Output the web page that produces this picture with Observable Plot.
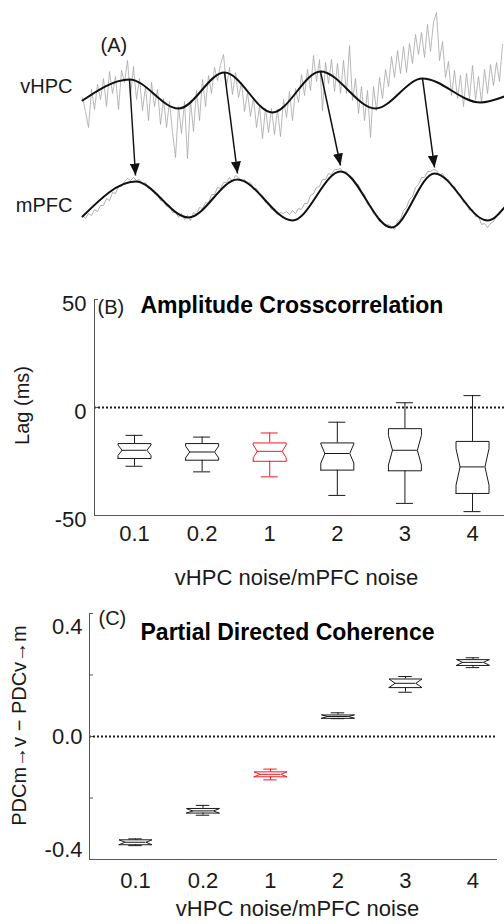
<!DOCTYPE html>
<html>
<head>
<meta charset="utf-8">
<script src="https://cdn.jsdelivr.net/npm/d3@7"></script>
<script src="https://cdn.jsdelivr.net/npm/@observablehq/plot@0.6"></script>
<style>
  body { margin: 0; background: #fff; }
  #fig { position: relative; width: 504px; height: 924px; overflow: hidden; background: #fff; }
  #fig svg { position: absolute; left: 0; }
</style>
</head>
<body>
<div id="fig"></div>
<script>
// ---------- Panel A: example LFP traces (arbitrary units, one sample every 3 ms) ----------
const sampleStep = 3;
const vhpcRaw = [
  -5, -19, -35, 3, -17, 8, -7, 14, -14, 21,
  -1, 16, -17, 22, 10, 32, -4, 26, -7, 14,
  -18, 6, -28, 10, -14, 3, -32, -6, -35, -9,
  -40, -65, -14, -41, -9, -66, -8, -39, 2, -28,
  13, -14, 17, -1, 25, 12, 28, 38, 6, 25,
  -2, 20, -5, 10, -19, 0, -24, -5, -35, -14,
  -46, -16, -40, -16, -42, -17, -44, -7, -25, 1,
  -28, 4, -10, 18, -3, 23, 2, 37, 11, 33,
  -18, 30, 9, 33, 1, 29, -1, 32, -1, 47,
  -8, 14, -21, 6, -28, 2, -45, 6, -18, 15,
  -6, 23, 6, 36, 15, 42, 19, 46, 20, 49,
  29, 58, 38, 60, 35, 68, 41, 70, 80, 32,
  51, 15, 31, -3, 22, -6, 17, -14, 19, -6,
  27, -7, 16, -10, 23, -1, 28, 7, 30, 11,
  48
];
const mpfcRaw = [
  -16, -19, -14, -16, -10, -12, -6, -6, 1, -1,
  7, 6, 13, 13, 18, 21, 19, 22, 19, 20,
  15, 17, 11, 11, 6, 6, -1, -1, -7, -6,
  -13, -12, -18, -14, -20, -16, -21, -13, -15, -8,
  -9, -3, -4, 5, 5, 12, 11, 17, 17, 22,
  18, 24, 22, 18, 20, 16, 17, 10, 11, 5,
  4, -3, -3, -10, -9, -15, -13, -14, -12, -15,
  -11, -14, -9, -10, -4, -4, 4, 6, 12, 13,
  20, 20, 26, 25, 30, 30, 31, 27, 28, 22,
  22, 15, 15, 7, 5, -5, -6, -14, -15, -22,
  -22, -27, -25, -27, -30, -22, -20, -11, -8, 0,
  3, 12, 15, 22, 22, 28, 28, 30, 29, 24,
  26, 20, 20, 13, 13, 6, 5, -3, -3, -11,
  -10, -17, -17, -25, -24, -28, -24, -22, -17, -15,
  -9
];
// theta-band envelope: times (ms) and values of successive extrema
const vhpcThetaT = [0, 47, 96, 142, 190, 238, 293, 340, 398, 422];
const vhpcThetaV = [-8, 13, -16, 20, -20, 21, -16, 14, -10, -4];
const mpfcThetaT = [0, 53, 106, 155, 210, 258, 309, 352, 405, 422];
const mpfcThetaV = [-17, 18, -18, 20, -21, 28, -28, 26, -21, -8];
// vHPC peak -> following mPFC peak (indices into the extrema arrays)
const leadPeaks = [1, 3, 5, 7];

// ---------- Panel B: amplitude cross-correlation lag (ms) ----------
const ratios = ["0.1", "0.2", "1", "2", "3", "4"];
const highlightRatio = "1";
const lagLo  = [-27.2, -29.8, -32.1, -40.7, -44.4, -48.2];
const lagQ1  = [-23.6, -24.4, -24.9, -29.0, -29.3, -39.8];
const lagMed = [-19.8, -20.6, -20.3, -21.3, -19.8, -27.5];
const lagQ3  = [-16.7, -16.7, -16.4, -16.4, -9.8, -15.7];
const lagHi  = [-12.9, -13.7, -11.8, -6.8, 2.2, 5.5];
const lagTicks = [-50, 0, 50];
const lagTickLabels = ["-50", "0", "50"];

// ---------- Panel C: partial directed coherence difference ----------
const pdcLo  = [-0.355, -0.256, -0.141, 0.058, 0.144, 0.224];
const pdcQ1  = [-0.352, -0.249, -0.131, 0.059, 0.159, 0.231];
const pdcMed = [-0.344, -0.242, -0.123, 0.065, 0.173, 0.241];
const pdcQ3  = [-0.336, -0.234, -0.115, 0.070, 0.187, 0.250];
const pdcHi  = [-0.333, -0.224, -0.106, 0.077, 0.195, 0.256];
const pdcTicks = [-0.4, 0, 0.4];
const pdcTickLabels = ["-0.4", "0.0", "0.4"];
const pdcMinorTicks = [-0.4, -0.2, 0, 0.2, 0.4];

// ---------- shared styling ----------
const FONT = "'Liberation Sans', Arial, Helvetica, sans-serif";
const INK = "#1a1a1a";
const AXIS = "#555";
const RED = "#ee1c24";
const plotStyle = {fontFamily: FONT, background: "transparent", overflow: "visible", color: INK};

const fig = document.getElementById("fig");
function place(svg, top) { svg.style.top = top + "px"; fig.appendChild(svg); return svg; }

// ===================== Panel A =====================
const vOffset = 33, mOffset = -74, arrowGap = 6;
const rawV = vhpcRaw.map((v, i) => ({t: i * sampleStep, v: v + vOffset}));
const rawM = mpfcRaw.map((v, i) => ({t: i * sampleStep, v: v + mOffset}));
const thetaV = vhpcThetaT.map((t, i) => ({t, v: vhpcThetaV[i] + vOffset}));
const thetaM = mpfcThetaT.map((t, i) => ({t, v: mpfcThetaV[i] + mOffset}));
const arrows = leadPeaks.map(k => ({
  t1: vhpcThetaT[k], v1: vhpcThetaV[k] + vOffset,
  t2: mpfcThetaT[k], v2: mpfcThetaV[k] + mOffset + arrowGap
}));

const svgA = Plot.plot({
  width: 504, height: 250,
  marginLeft: 82, marginRight: 0, marginTop: 0, marginBottom: 0,
  style: plotStyle,
  x: {domain: [0, 422], axis: null},
  y: {domain: [-125, 125], axis: null},
  marks: [
    Plot.line(rawV, {x: "t", y: "v", stroke: "#a6a6a6", strokeWidth: 0.8}),
    Plot.line(rawM, {x: "t", y: "v", stroke: "#a6a6a6", strokeWidth: 0.9}),
    Plot.line(thetaV, {x: "t", y: "v", curve: "monotone-x", stroke: "#111", strokeWidth: 2}),
    Plot.line(thetaM, {x: "t", y: "v", curve: "monotone-x", stroke: "#111", strokeWidth: 2}),
    Plot.link(arrows, {x1: "t1", y1: "v1", x2: "t2", y2: "v2", stroke: "#111", strokeWidth: 1.5, markerEnd: "arrow"}),
    Plot.text([{label: "vHPC", t: 0, v: vOffset}], {x: "t", y: "v", text: "label", textAnchor: "end", dx: -10, dy: -6, fontSize: 20, fill: INK}),
    Plot.text([{label: "mPFC", t: 0, v: mOffset}], {x: "t", y: "v", text: "label", textAnchor: "end", dx: -10, dy: 6, fontSize: 20, fill: INK}),
    Plot.text(["(A)"], {frameAnchor: "top-left", text: d => d, dx: 18, dy: 51, lineAnchor: "bottom", textAnchor: "start", fontSize: 20, fill: INK})
  ]
});
// solid triangular arrow heads
d3.select(svgA).selectAll("marker").each(function () {
  const m = d3.select(this);
  m.attr("viewBox", "-12 -5 12 10").attr("markerUnits", "userSpaceOnUse")
    .attr("markerWidth", 12).attr("markerHeight", 10)
    .attr("fill", "#111").attr("stroke", "none");
  m.selectAll("*").remove();
  m.append("path").attr("d", "M-12,-5L0,0L-12,5Z");
});
place(svgA, 0);

// ===================== box plot helpers =====================
function boxMarks(stats, {n, half, inset, cap}) {
  const rows = ratios.map((r, i) => ({
    i, r,
    lo: stats.lo[i], q1: stats.q1[i], med: stats.med[i], q3: stats.q3[i], hi: stats.hi[i],
    color: r === highlightRatio ? RED : INK
  }));
  const outline = rows.flatMap(d => {
    const nh = 1.57 * (d.q3 - d.q1) / Math.sqrt(n);
    const a = d.med - nh, b = d.med + nh, L = d.i - half, R = d.i + half;
    return [
      [L, d.q1], [L, a], [L + inset, d.med], [L, b], [L, d.q3],
      [R, d.q3], [R, b], [R - inset, d.med], [R, a], [R, d.q1], [L, d.q1]
    ].map(([x, y]) => ({x, y, g: d.r, color: d.color}));
  });
  return [
    Plot.ruleX(rows, {x: "i", y1: "q3", y2: "hi", stroke: "color", strokeWidth: 1}),
    Plot.ruleX(rows, {x: "i", y1: "lo", y2: "q1", stroke: "color", strokeWidth: 1}),
    Plot.ruleY(rows, {y: "hi", x1: d => d.i - cap, x2: d => d.i + cap, stroke: "color", strokeWidth: 1}),
    Plot.ruleY(rows, {y: "lo", x1: d => d.i - cap, x2: d => d.i + cap, stroke: "color", strokeWidth: 1}),
    Plot.line(outline, {x: "x", y: "y", z: "g", stroke: "color", strokeWidth: 1}),
    Plot.ruleY(rows, {y: "med", x1: d => d.i - half + inset, x2: d => d.i + half - inset, stroke: "color", strokeWidth: 1})
  ];
}
const xLabelMarks = (yBase, dy) => Plot.text(ratios, {
  x: (d, i) => i, y: () => yBase, text: d => d, dy, lineAnchor: "bottom", fontSize: 22, fill: INK
});

// ===================== Panel B =====================
const bX = [-0.592, 5.473], bY = [-50, 50];
const svgB = Plot.plot({
  width: 504, height: 330,
  marginLeft: 94, marginRight: 0, marginTop: 29, marginBottom: 85,
  style: plotStyle,
  color: {type: "identity"},
  x: {domain: bX, axis: null},
  y: {domain: bY, axis: null},
  marks: [
    Plot.ruleY([0], {stroke: INK, strokeWidth: 2, strokeDasharray: "2 2"}),
    Plot.ruleX([bX[0]], {stroke: AXIS, strokeWidth: 1}),
    Plot.ruleY([bY[0]], {stroke: AXIS, strokeWidth: 1}),
    Plot.ruleY(lagTicks, {x1: bX[0], x2: bX[0] + 0.06, stroke: AXIS}),
    ...boxMarks({lo: lagLo, q1: lagQ1, med: lagMed, q3: lagQ3, hi: lagHi}, {n: 20, half: 0.244, inset: 0.06, cap: 0.126}),
    Plot.text(lagTicks, {x: bX[0], y: d => d, text: (d, i) => lagTickLabels[i], textAnchor: "end", dx: -8, dy: 4, fontSize: 22, fill: INK}),
    xLabelMarks(bY[0], 25),
    Plot.text(["(B)"], {frameAnchor: "top-left", text: d => d, dx: 3, dy: 14, lineAnchor: "bottom", textAnchor: "start", fontSize: 20, fill: INK}),
    Plot.text(["Amplitude Crosscorrelation"], {frameAnchor: "top-left", text: d => d, dx: 46, dy: 13, lineAnchor: "bottom", textAnchor: "start", fontSize: 23, fontWeight: "bold", fill: "#000"}),
    Plot.text(["Lag (ms)"], {frameAnchor: "left", text: d => d, rotate: -90, dx: -72, dy: -2, textAnchor: "middle", fontSize: 20, fill: INK}),
    Plot.text(["vHPC noise/mPFC noise"], {frameAnchor: "bottom", text: d => d, dx: -3, dy: 69, lineAnchor: "bottom", fontSize: 22, fill: INK})
  ]
});
place(svgB, 270);

// ===================== Panel C =====================
const cX = [-0.6815, 5.363], cY = [-0.4, 0.4];
const cTickDy = [-10, 0, 13];
const svgC = Plot.plot({
  width: 504, height: 324,
  marginLeft: 89, marginRight: 7, marginTop: 13, marginBottom: 65,
  style: plotStyle,
  color: {type: "identity"},
  x: {domain: cX, axis: null},
  y: {domain: cY, axis: null},
  marks: [
    Plot.ruleY([0], {stroke: INK, strokeWidth: 2, strokeDasharray: "2 2"}),
    Plot.ruleX([cX[0]], {stroke: AXIS, strokeWidth: 1}),
    Plot.ruleY([cY[0]], {stroke: AXIS, strokeWidth: 1}),
    Plot.ruleY(pdcMinorTicks, {x1: cX[0], x2: cX[0] + 0.06, stroke: AXIS}),
    ...boxMarks({lo: pdcLo, q1: pdcQ1, med: pdcMed, q3: pdcQ3, hi: pdcHi}, {n: 10, half: 0.244, inset: 0.09, cap: 0.1}),
    ...pdcTicks.map((v, i) => Plot.text([v], {x: cX[0], y: d => d, text: () => pdcTickLabels[i], textAnchor: "end", dx: -7, dy: cTickDy[i], fontSize: 22, fill: INK})),
    xLabelMarks(cY[0], 28),
    Plot.text(["(C)"], {frameAnchor: "top-left", text: d => d, dx: 9, dy: 11.5, lineAnchor: "bottom", textAnchor: "start", fontSize: 20, fill: INK}),
    Plot.text(["Partial Directed Coherence"], {frameAnchor: "top-left", text: d => d, dx: 51, dy: 26.5, lineAnchor: "bottom", textAnchor: "start", fontSize: 23, fontWeight: "bold", fill: "#000"}),
    Plot.text(["PDCm\u2192v \u2212 PDCv\u2192m"], {frameAnchor: "left", text: d => d, rotate: -90, dx: -70, dy: -11, textAnchor: "middle", fontSize: 20, fill: INK}),
    Plot.text(["vHPC noise/mPFC noise"], {frameAnchor: "bottom", text: d => d, dx: 4, dy: 56, lineAnchor: "bottom", fontSize: 22, fill: INK})
  ]
});
place(svgC, 600);
</script>
</body>
</html>
